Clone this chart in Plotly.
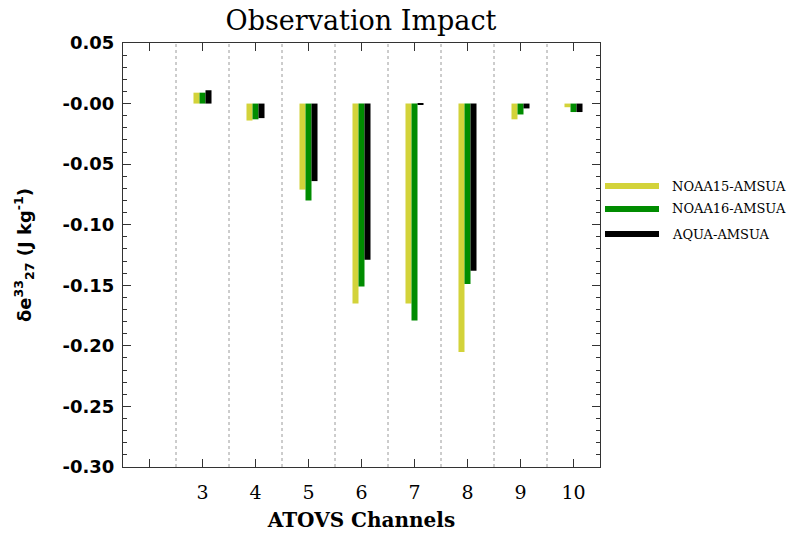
import plotly.graph_objects as go

channels = [3, 4, 5, 6, 7, 8, 9, 10]
noaa15 = [0.009, -0.014, -0.071, -0.165, -0.165, -0.205, -0.013, -0.003]
noaa16 = [0.009, -0.013, -0.080, -0.151, -0.179, -0.149, -0.009, -0.007]
aqua = [0.011, -0.012, -0.064, -0.129, -0.001, -0.138, -0.004, -0.007]
series_names = ["NOAA15-AMSUA", "NOAA16-AMSUA", "AQUA-AMSUA"]
series_colors = ["#d3d33a", "#008c00", "#000000"]

y_tickvals = [0.05, 0.0, -0.05, -0.10, -0.15, -0.20, -0.25, -0.30]
y_ticktext = ["0.05", "-0.00", "-0.05", "-0.10", "-0.15", "-0.20", "-0.25", "-0.30"]
x_tickvals = [2] + channels
x_ticktext = [""] + [str(c) for c in channels]

fig = go.Figure()
for name, vals, col in zip(series_names, [noaa15, noaa16, aqua], series_colors):
    fig.add_trace(go.Bar(x=channels, y=vals, name=name, marker=dict(color=col, line=dict(width=0)),
                         showlegend=False))

# dashed separators between channels
for c in [2] + channels[:-1]:
    fig.add_shape(type="line", xref="x", yref="paper", x0=c + 0.5, x1=c + 0.5, y0=0, y1=1,
                  line=dict(color="#9a9a9a", width=1, dash="3px,3px"), layer="below")

# custom legend (line swatches)
leg_y = [0.6627, 0.6085, 0.5495]
for name, col, yy in zip(series_names, series_colors, leg_y):
    fig.add_shape(type="line", xref="paper", yref="paper", x0=1.0105, x1=1.1237, y0=yy, y1=yy,
                  line=dict(color=col, width=6))
    fig.add_annotation(xref="paper", yref="paper", x=1.1468, y=yy, text=name, showarrow=False,
                       xanchor="left", yanchor="middle",
                       font=dict(family="DejaVu Serif", size=13, color="black"))

axis_line = "#333333"
fig.update_layout(
    width=792, height=533,
    margin=dict(l=123, r=192, t=43, b=66),
    paper_bgcolor="white", plot_bgcolor="white",
    barmode="group", bargap=0.66, bargroupgap=0,
    title=dict(text="Observation Impact", x=0.4558, xanchor="center", y=0.962, yanchor="middle",
               font=dict(family="DejaVu Serif", size=27, color="black")),
    xaxis=dict(range=[1.5, 10.5], tickvals=x_tickvals, ticktext=x_ticktext, automargin=False,
               ticks="inside", ticklen=8, tickcolor=axis_line, showgrid=False, zeroline=False,
               showline=True, linecolor=axis_line, linewidth=1, mirror="allticks",
               tickfont=dict(family="DejaVu Serif", size=19, color="black"),
               ticklabelstandoff=8,
               title=dict(text="ATOVS Channels", standoff=11)),
    yaxis=dict(range=[-0.30, 0.05], tickvals=y_tickvals, ticktext=y_ticktext, automargin=False,
               ticks="inside", ticklen=8, tickcolor=axis_line, showgrid=False, zeroline=False,
               showline=True, linecolor=axis_line, linewidth=1, mirror="allticks",
               minor=dict(dtick=0.01, tick0=0, ticks="inside", ticklen=4, tickcolor=axis_line, showgrid=False),
               tickfont=dict(family="DejaVu Sans", size=18, color="black", weight="bold"),
               ticklabelstandoff=4,
               title=dict(text="<b>δe<sup>33</sup><sub>27</sub> (J kg<sup>-1</sup>)</b>", standoff=26,
                          font=dict(family="DejaVu Sans", size=18, color="black"))),
)
fig.update_xaxes(title_font=dict(family="DejaVu Serif, serif", size=20, color="black", weight="bold"))

fig.write_html("out.html")
